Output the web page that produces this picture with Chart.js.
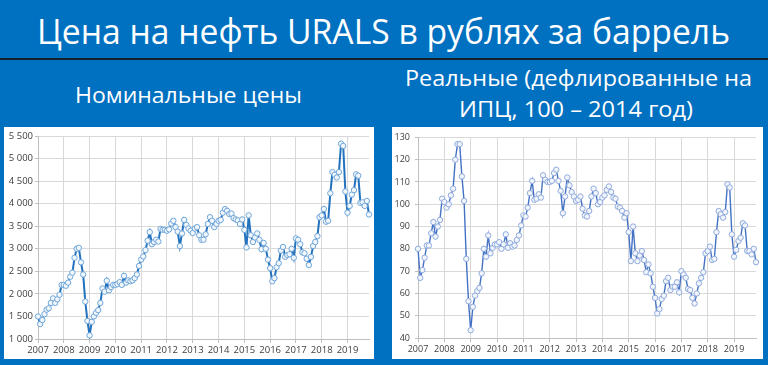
<!DOCTYPE html>
<html><head><meta charset="utf-8">
<script src="https://cdn.jsdelivr.net/npm/chart.js@4.4.0/dist/chart.umd.min.js"></script>
<style>
html,body{margin:0;padding:0;}
body{width:768px;height:365px;background:#0070C0;position:relative;overflow:hidden;font-family:"Open Sans",sans-serif;}
.t{position:absolute;white-space:nowrap;color:#fff;line-height:1;transform-origin:0 0;font-family:"Open Sans",sans-serif;}
#rule{position:absolute;left:0;top:58px;width:768px;height:2px;background:#14202c;}
.panel{position:absolute;background:#fff;}
.panel canvas{display:block;}
</style></head>
<body>
<div id="title" class="t" style="font-size:34px">Цена на нефть URALS в рублях за баррель</div>
<div id="rule"></div>
<div id="sub1" class="t" style="font-size:22px">Номинальные цены</div>
<div id="sub2a" class="t" style="font-size:22px">Реальные (дефлированные на</div>
<div id="sub2b" class="t" style="font-size:22px">ИПЦ, 100 – 2014 год)</div>
<div class="panel" style="left:4px;top:127px;width:370px;height:232px"><canvas id="c1" width="370" height="232"></canvas></div>
<div class="panel" style="left:392px;top:127px;width:371px;height:232px"><canvas id="c2" width="371" height="232"></canvas></div>
<script>
// ---- categories ----
const years = [2007,2008,2009,2010,2011,2012,2013,2014,2015,2016,2017,2018,2019];
const lastYearMonths = 11; // Jan–Nov 2019
const months = [];
years.forEach(y => {
  const n = (y === 2019) ? lastYearMonths : 12;
  for (let m = 1; m <= n; m++) months.push(y + '-' + String(m).padStart(2,'0'));
});

// ---- series: nominal price, RUB per barrel ----
const nominalRub = [
  1500,1330,1420,1550,1650,1680,1800,1900,1800,1880,1980,2200,
  2200,2180,2250,2380,2470,2800,3000,3020,2700,2430,1830,1400,
  1080,1380,1500,1580,1640,1800,2120,2050,2290,2080,2150,2200,
  2200,2220,2260,2200,2400,2250,2300,2280,2300,2350,2430,2620,
  2760,2830,2970,3180,3370,3100,3150,3200,3160,3440,3420,3420,
  3400,3430,3560,3620,3480,3380,3060,3340,3640,3530,3450,3400,
  3350,3450,3480,3300,3200,3200,3320,3550,3700,3620,3480,3550,
  3620,3640,3800,3880,3840,3770,3780,3680,3650,3630,3550,3650,
  3420,3030,3740,3300,3150,3250,3340,3200,2990,3130,3000,2760,
  2570,2280,2350,2590,2680,2960,3040,2820,2860,2880,3000,2800,
  3230,3200,3100,2920,2900,2780,2640,2820,3060,3150,3280,3700,
  3740,3880,3600,3620,4230,4700,4640,4580,4700,5330,5280,4270,
  3800,3950,4200,4300,4650,4620,4020,4030,3950,4060,3760
];
// ---- series: real price (CPI deflated, 2014 = 100) ----
const realIndex = [
  80,67,70.5,76,81.5,81.5,87,92,85.5,90,93,102.5,
  101,98.5,100,104,107,120,127,127,112.5,101.5,75.5,56.5,
  43.5,54,59,61,62.5,69,80,76.5,86,78,80.5,82,
  82,83,80,82,86.5,80.5,82.5,81,81.5,84,86,90.5,
  95,94.5,98.5,105,110.5,102,102.5,104.5,103,113,111,110,
  110,110.5,114,115.5,110.5,106,96,103.5,112,108.5,105.5,103.5,
  101.5,102,103.5,98,95,94.5,97,103.5,107,105,100,101,
  103,104,106.5,108,105.5,103,102.5,99,98.5,97,94,96,
  87.5,74.5,90,78,74.5,77,79,75,69.5,73,69,63,
  58,51,53,57.5,59,65.5,67,61.5,63,63,65,60.5,
  70,68.5,67,62,61.5,58,55.5,60,64.5,67,69.5,78,
  79,81,75,75.5,87.5,97,95.5,94,96.5,109,107.5,86.5,
  76.5,79.5,83.5,85,91.5,90.5,79,79,77.5,80,74
];
// ---- axis ranges ----
const nominalAxis = {min:1000, max:5500, step:500};
const realAxis = {min:40, max:130, step:10};

const GRID = '#d9d9d9', AXIS = '#bfbfbf', TXT = '#404040';
const isJan = i => months[i] && months[i].endsWith('-01');
const fmt = v => v >= 1000 ? Math.floor(v/1000) + ' ' + String(v % 1000).padStart(3,'0') : String(v);

function makeChart(id, values, ax, geom, st) {
  const canvas = document.getElementById(id);
  const W = canvas.width, H = canvas.height;
  return new Chart(canvas, {
    type: 'line',
    data: { labels: months, datasets: [{
      data: values, borderColor: st.line, borderWidth: st.lw, tension: 0, fill: false,
      pointRadius: st.r, pointBackgroundColor: st.fill, pointBorderColor: st.pb, pointBorderWidth: 1
    }]},
    options: {
      responsive: false, animation: false, events: [],
      plugins: { legend: {display:false}, tooltip: {enabled:false} },
      layout: { padding: { left: 0, top: geom.top, right: W - geom.right, bottom: 0 } },
      scales: {
        x: {
          type: 'category', offset: false,
          grid: { color: GRID, tickColor: AXIS, tickLength: 4 },
          border: { color: AXIS },
          ticks: { autoSkip: false, maxRotation: 0, minRotation: 0, padding: 2, color: TXT,
                   font: { family: 'Open Sans', size: st.fs },
                   callback: (v, i) => isJan(i) ? months[i].slice(0,4) : null },
          afterFit: s => { s.height = H - geom.bottom; }
        },
        y: {
          min: ax.min, max: ax.max,
          grid: { color: GRID, tickColor: AXIS, tickLength: 3 },
          border: { color: AXIS },
          ticks: { stepSize: ax.step, padding: st.yp, color: TXT, font: { family: 'Open Sans', size: st.fs },
                   callback: v => fmt(v) },
          afterFit: s => { s.width = geom.left; }
        }
      }
    }
  });
}

function place(id, x1, x2, baseline, size) {
  const el = document.getElementById(id);
  el.style.left = x1 + 'px';
  el.style.top = (baseline - 0.888 * size) + 'px';
  const w = el.getBoundingClientRect().width;
  el.style.transform = 'scaleX(' + ((x2 - x1) / w) + ')';
}

function draw() {
  place('title', 37, 730, 44, 34);
  place('sub1', 75, 302, 103, 22);
  place('sub2a', 405, 752, 86, 22);
  place('sub2b', 459, 693, 117, 22);
  makeChart('c1', nominalRub, nominalAxis, {left:34, top:9, right:365, bottom:212},
    {line:'#2272BE', lw:2, r:2.7, fill:'#F2F7FC', pb:'#6FA6DA', fs:9.5, yp:2});
  makeChart('c2', realIndex, realAxis, {left:26, top:9, right:364, bottom:211},
    {line:'#4472C4', lw:1.4, r:2.7, fill:'#F2F6FC', pb:'#8FAADC', fs:9, yp:5});
}
if (document.fonts && document.fonts.ready) document.fonts.ready.then(draw); else draw();
</script>
</body></html>
